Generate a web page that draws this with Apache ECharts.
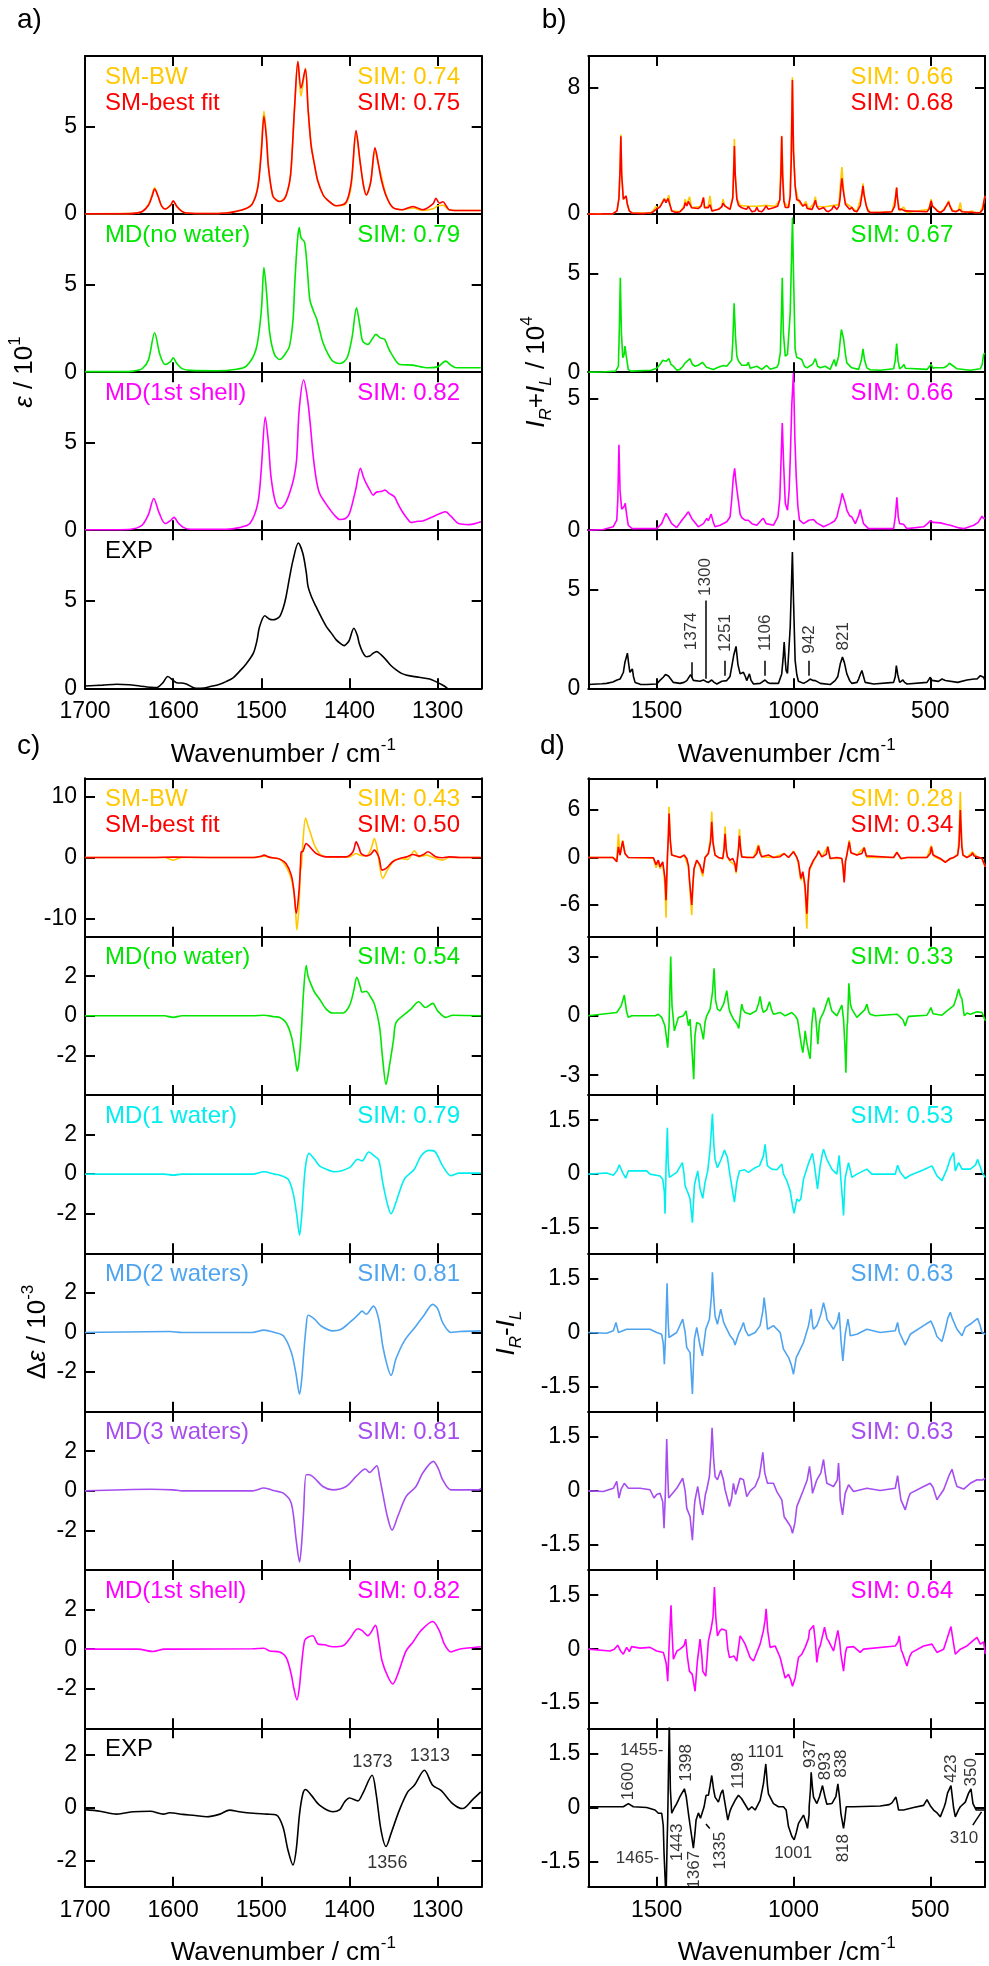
<!DOCTYPE html>
<html><head><meta charset="utf-8">
<script src="https://cdn.jsdelivr.net/npm/echarts@6/dist/echarts.min.js"></script>
<style>html,body{margin:0;padding:0;background:#fff}#c{width:989px;height:1966px}</style>
</head><body><div id="c"></div>
<script>
// ---------------- DATA (wavenumber, value) ----------------
const aBW = [[1700,0.02],[1645,0.04],[1635,0.15],[1628,0.55],[1624,1.1],[1621,1.5],[1617,1.0],[1613,0.45],[1609,0.3],[1603,0.5],[1600,0.72],[1596,0.45],[1590,0.15],[1585,0.06],[1560,0.03],[1540,0.06],[1530,0.14],[1518,0.3],[1510,0.6],[1504,1.6],[1500,3.8],[1497,5.85],[1494,4.4],[1492,2.8],[1487,1.05],[1479,0.72],[1472,1.04],[1468,1.8],[1466,2.7],[1462,6.3],[1458.5,8.7],[1455,6.7],[1450,8.3],[1447,6.1],[1443.5,4.0],[1440,2.9],[1436,1.9],[1430,1.1],[1426,0.85],[1415,0.47],[1404,0.6],[1398,1.6],[1392.5,4.6],[1388,3.0],[1384,1.6],[1381,1.09],[1376,1.8],[1371,3.6],[1367,2.8],[1364,2.2],[1358.5,1.1],[1351,0.38],[1340,0.25],[1328,0.35],[1317,0.2],[1305,0.3],[1300,0.47],[1294,0.5],[1287,0.25],[1270,0.2],[1251,0.2]];
const aBest = [[1700,0.02],[1660,0.02],[1645,0.04],[1635,0.15],[1628,0.5],[1624,1.0],[1621,1.42],[1617,1.0],[1613,0.45],[1609,0.28],[1603,0.5],[1600,0.75],[1596,0.45],[1590,0.15],[1585,0.06],[1560,0.03],[1540,0.06],[1530,0.14],[1518,0.3],[1510,0.6],[1504,1.5],[1500,3.5],[1497,5.57],[1494,4.2],[1492,2.7],[1487,1.04],[1483,0.8],[1479,0.72],[1475,0.8],[1472,1.04],[1468,1.8],[1466,2.7],[1462,6.3],[1458.5,8.68],[1455,7.17],[1450,8.25],[1447,6.0],[1443.5,3.9],[1440,2.9],[1436,1.9],[1430,1.1],[1426,0.85],[1415,0.47],[1404,0.66],[1398,1.8],[1392.5,4.75],[1388,3.0],[1384,1.6],[1381,1.09],[1376,1.8],[1371,3.77],[1367,2.8],[1364,1.98],[1358.5,1.04],[1351,0.38],[1340,0.25],[1328,0.43],[1317,0.25],[1305,0.6],[1302,0.9],[1298,0.62],[1294,0.7],[1290,0.45],[1287,0.25],[1270,0.2],[1251,0.2]];
const aNoWater = [[1700,0.03],[1660,0.03],[1645,0.06],[1635,0.2],[1628,0.7],[1621,2.24],[1615,1.0],[1609,0.44],[1603,0.6],[1600,0.82],[1596,0.5],[1590,0.2],[1580,0.1],[1550,0.08],[1530,0.15],[1517,0.34],[1506,1.3],[1500,3.5],[1497,5.95],[1494,4.5],[1490.5,2.24],[1485,1.0],[1479,0.72],[1472,1.1],[1468,1.48],[1464,3.0],[1462,5.1],[1459,7.5],[1457,8.23],[1455,7.66],[1451,7.4],[1448,6.0],[1445,4.14],[1441,3.5],[1437,3.0],[1430,1.67],[1424,1.0],[1419,0.63],[1411,0.49],[1406,0.6],[1402,0.9],[1397,2.0],[1392,3.67],[1388,2.6],[1385,1.77],[1379,1.58],[1374,1.9],[1370,2.15],[1365,1.95],[1360,1.86],[1356,1.4],[1353,1.1],[1343,0.44],[1328,0.4],[1313,0.25],[1300,0.3],[1291,0.63],[1285,0.4],[1279,0.25],[1251,0.25]];
const aShell = [[1700,0.03],[1660,0.03],[1645,0.08],[1635,0.3],[1628,0.9],[1622,1.81],[1616,1.0],[1609,0.38],[1603,0.55],[1599,0.73],[1594,0.4],[1588,0.15],[1580,0.06],[1540,0.06],[1525,0.15],[1513,0.38],[1504,1.53],[1500,3.5],[1495.5,6.45],[1492,5.0],[1489,3.05],[1484,1.6],[1479,1.24],[1473,1.5],[1468,2.1],[1463,3.0],[1460,4.0],[1457,6.87],[1452,8.55],[1447.5,7.44],[1444,5.8],[1441.5,4.39],[1438,3.0],[1434,2.1],[1428,1.6],[1423,1.24],[1417,0.85],[1411,0.61],[1405,0.65],[1400,0.95],[1393,2.3],[1387.5,3.53],[1384,3.0],[1381,2.67],[1377,2.3],[1373,2.0],[1370,2.15],[1367,2.19],[1363,2.22],[1360,2.29],[1355,2.1],[1349,1.91],[1345,1.5],[1340,1.05],[1335,0.7],[1330,0.44],[1324,0.5],[1317,0.53],[1306,0.76],[1297,0.95],[1291,1.05],[1285,0.8],[1276,0.38],[1264,0.32],[1251,0.48]];
const aExp = [[1700,0.13],[1680,0.18],[1664,0.23],[1650,0.2],[1638,0.13],[1625,0.06],[1619,0.04],[1612,0.3],[1606,0.67],[1600,0.45],[1596,0.32],[1590,0.3],[1585,0.25],[1574,0.0],[1565,0.02],[1558,0.1],[1548,0.22],[1540,0.38],[1532,0.6],[1525,0.95],[1517,1.4],[1509,2.0],[1505,2.7],[1502,3.5],[1496,4.13],[1491,3.95],[1487,3.9],[1483,3.95],[1479,4.1],[1475,4.6],[1472,5.2],[1468,6.3],[1464,7.3],[1458,8.27],[1453,7.7],[1449,6.6],[1447,5.8],[1443,5.2],[1438,4.66],[1432,4.05],[1426,3.5],[1420,3.1],[1415,2.76],[1410,2.55],[1406,2.43],[1402,2.6],[1400,2.76],[1395,3.42],[1391,3.0],[1389,2.57],[1385,2.05],[1381,1.8],[1377,1.84],[1373,2.0],[1369,2.09],[1364,1.9],[1358.5,1.62],[1353,1.3],[1347,1.05],[1341,0.85],[1336,0.76],[1328,0.68],[1321,0.63],[1309,0.53],[1302,0.38],[1295,0.2],[1289,0.0],[1275,-0.6],[1250,-1.3]];

const bBW = [[1750,0],[1660,0.03],[1645,0.2],[1638,1.0],[1634,2.9],[1631,5.03],[1628,2.6],[1622,0.94],[1616,1.0],[1612,1.15],[1607,0.6],[1600,0.2],[1590,0.06],[1520,0.08],[1510,0.3],[1502,0.5],[1495,0.35],[1488,0.5],[1482,0.7],[1472,1.0],[1466,0.75],[1459,1.0],[1456,1.2],[1450,0.5],[1445,0.2],[1415,0.15],[1400,0.5],[1396,0.94],[1390,0.6],[1384,0.9],[1380,1.1],[1372,0.4],[1366,0.3],[1338,0.5],[1329,1.05],[1325,0.4],[1312,0.5],[1305,1.15],[1298,0.2],[1274,0.3],[1262,0.5],[1258,0.94],[1250,0.5],[1232,0.3],[1222,1.1],[1216,4.75],[1213,2.6],[1207,1.0],[1195,0.55],[1165,0.5],[1134,0.5],[1100,0.55],[1067,0.5],[1050,0.9],[1043,4.95],[1035,0.8],[1018,0.42],[1012,1.2],[1004,8.65],[1000,4.1],[994,1.8],[982,0.8],[966,0.5],[955,0.8],[944,0.3],[925,0.7],[920,1.1],[915,0.5],[890,0.45],[853,0.55],[834,0.6],[828,2.0],[823,2.97],[819,2.0],[815,1.2],[810,0.7],[805,0.75],[787,0.42],[768,0.15],[750,1.3],[746,1.95],[742,1.3],[734,0.52],[720,0.1],[640,0.15],[626,1.2],[623,1.68],[620,1.0],[612,0.2],[598,0.45],[585,0.1],[505,0.3],[497,0.94],[492,0.5],[482,0.35],[463,0.1],[440,0.5],[433,0.84],[428,0.5],[415,0.2],[398,0.2],[390,0.73],[385,0.2],[365,0.1],[348,0.2],[340,0.1],[317,0.1],[305,0.7],[300,1.15]];
const bBest = [[1750,0],[1700,0.01],[1660,0.03],[1645,0.2],[1638,1.0],[1634,2.8],[1631,4.92],[1628,2.5],[1622,0.94],[1616,1.0],[1612,1.15],[1607,0.6],[1600,0.2],[1590,0.06],[1550,0.03],[1520,0.08],[1512,0.15],[1502,0.3],[1488,0.45],[1482,0.63],[1472,0.94],[1466,0.73],[1459,0.98],[1456,1.05],[1450,0.5],[1445,0.2],[1430,0.1],[1415,0.15],[1400,0.4],[1396,0.73],[1390,0.52],[1384,0.8],[1380,0.84],[1372,0.4],[1366,0.3],[1348,0.35],[1338,0.5],[1333,0.8],[1329,1.05],[1325,0.4],[1320,0.3],[1312,0.4],[1305,0.59],[1298,0.2],[1293,0.15],[1274,0.3],[1262,0.45],[1258,0.69],[1250,0.5],[1244,0.52],[1232,0.3],[1222,1.0],[1218,3.0],[1216,4.3],[1213,2.5],[1207,0.94],[1201,0.55],[1195,0.52],[1189,0.4],[1183,0.42],[1172,0.3],[1165,0.48],[1158,0.3],[1152,0.15],[1140,0.2],[1134,0.42],[1128,0.2],[1116,0.15],[1108,0.3],[1100,0.52],[1092,0.3],[1085,0.2],[1073,0.4],[1067,0.48],[1058,0.5],[1050,0.9],[1046,2.5],[1043,4.92],[1040,2.5],[1035,0.8],[1030,0.42],[1018,0.42],[1012,1.15],[1008,3.5],[1004,8.48],[1000,4.0],[994,1.78],[988,0.9],[982,0.8],[978,0.85],[973,0.9],[966,0.5],[963,0.42],[955,0.63],[950,0.35],[944,0.27],[932,0.3],[925,0.6],[920,0.88],[915,0.5],[907,0.3],[898,0.35],[890,0.42],[880,0.2],[872,0.15],[860,0.3],[853,0.52],[846,0.4],[841,0.3],[834,0.5],[830,0.94],[826,1.8],[823,2.26],[819,1.6],[815,1.15],[810,0.6],[805,0.63],[795,0.3],[787,0.42],[778,0.2],[768,0.15],[756,0.52],[750,1.2],[746,1.78],[742,1.2],[734,0.52],[728,0.2],[720,0.1],[683,0.1],[640,0.15],[630,0.5],[626,1.2],[623,1.68],[620,1.0],[615,0.3],[612,0.2],[605,0.3],[598,0.42],[592,0.2],[585,0.1],[512,0.15],[505,0.3],[500,0.6],[497,0.84],[492,0.5],[488,0.52],[482,0.35],[475,0.2],[463,0.1],[450,0.25],[445,0.42],[440,0.5],[433,0.77],[428,0.5],[420,0.2],[405,0.15],[398,0.2],[393,0.3],[390,0.27],[385,0.15],[378,0.1],[350,0.12],[330,0.08],[317,0.1],[308,0.3],[305,0.7],[300,1.15]];
const bNoWater = [[1750,0],[1700,0.01],[1650,0.05],[1640,0.3],[1636,2.5],[1633,4.78],[1629,2.0],[1624,0.73],[1619,0.9],[1616,1.32],[1612,0.9],[1604,0.14],[1595,0.05],[1520,0.1],[1512,0.14],[1500,0.2],[1488,0.39],[1478,0.6],[1472,0.68],[1466,0.55],[1461,0.65],[1455,0.68],[1448,0.4],[1439,0.3],[1426,0.1],[1415,0.14],[1404,0.3],[1396,0.47],[1390,0.5],[1378,0.68],[1370,0.4],[1360,0.3],[1348,0.35],[1341,0.39],[1333,0.5],[1327,0.56],[1318,0.25],[1311,0.22],[1293,0.14],[1275,0.25],[1256,0.34],[1244,0.3],[1238,0.39],[1226,0.6],[1222,1.5],[1217,3.48],[1212,1.8],[1207,0.8],[1201,0.56],[1189,0.35],[1183,0.39],[1171,0.35],[1165,0.5],[1158,0.2],[1152,0.14],[1134,0.3],[1116,0.14],[1098,0.34],[1085,0.15],[1079,0.17],[1061,0.25],[1055,0.39],[1048,1.0],[1044,3.0],[1041,4.78],[1037,2.0],[1030,0.81],[1022,0.9],[1018,0.98],[1012,3.0],[1006,6.5],[1003.6,7.82],[1000,5.0],[994,1.15],[988,0.75],[982,0.68],[970,0.64],[960,0.3],[951,0.22],[930,0.4],[920,0.68],[912,0.3],[902,0.22],[884,0.3],[866,0.14],[851,0.64],[845,0.3],[841,0.39],[835,0.8],[830,1.5],[825,2.16],[817,1.69],[810,0.9],[805,0.47],[787,0.22],[762,0.14],[752,0.6],[746,1.18],[740,0.6],[732,0.22],[720,0.12],[683,0.1],[634,0.17],[628,0.6],[623,1.45],[618,0.6],[612,0.17],[604,0.25],[596,0.39],[591,0.2],[585,0.1],[512,0.14],[505,0.2],[497,0.39],[490,0.2],[482,0.22],[451,0.22],[440,0.3],[430,0.45],[424,0.47],[415,0.3],[402,0.17],[354,0.1],[317,0.17],[310,0.4],[305,0.9],[300,0.95]];
const bShell = [[1750,0],[1695,0.03],[1659,0.13],[1646,0.38],[1642,1.2],[1638,3.24],[1634,1.5],[1628,0.8],[1624,0.76],[1619,0.9],[1615,1.02],[1610,0.6],[1604,0.19],[1590,0.06],[1537,0.06],[1500,0.06],[1482,0.25],[1472,0.5],[1466,0.64],[1458,0.5],[1445,0.25],[1427,0.1],[1408,0.38],[1395,0.55],[1384,0.7],[1372,0.45],[1366,0.38],[1348,0.13],[1329,0.25],[1317,0.45],[1311,0.36],[1301,0.61],[1293,0.3],[1287,0.13],[1268,0.19],[1244,0.32],[1232,0.5],[1226,1.14],[1220,2.0],[1215,2.35],[1210,1.8],[1205,1.4],[1195,0.6],[1189,0.48],[1177,0.38],[1165,0.38],[1152,0.25],[1134,0.19],[1118,0.38],[1110,0.45],[1100,0.25],[1073,0.19],[1057,0.51],[1050,1.2],[1045,2.8],[1041,4.07],[1036,2.5],[1030,1.02],[1022,0.76],[1016,1.5],[1012,2.67],[1006,4.8],[1000,5.98],[995,3.5],[990,2.03],[984,0.9],[978,0.38],[963,0.25],[944,0.38],[927,0.41],[915,0.28],[890,0.13],[866,0.25],[850,0.35],[841,0.51],[835,0.8],[829,1.02],[822,1.4],[817,1.46],[810,1.0],[805,0.76],[795,0.55],[787,0.51],[774,0.25],[762,0.55],[756,0.79],[750,0.5],[744,0.25],[726,0.06],[634,0.06],[628,0.51],[622,1.25],[617,0.5],[612,0.25],[598,0.23],[585,0.06],[524,0.13],[510,0.25],[500,0.36],[490,0.3],[463,0.28],[440,0.22],[427,0.19],[400,0.1],[378,0.06],[341,0.19],[325,0.3],[311,0.53],[305,0.45],[300,0.45]];
const bExp = [[1750,0.19],[1700,0.23],[1683,0.25],[1660,0.32],[1645,0.42],[1634,0.47],[1622,0.8],[1616,1.32],[1607,1.78],[1603,1.3],[1598,0.81],[1594,0.85],[1589,0.98],[1585,0.6],[1579,0.3],[1560,0.2],[1537,0.19],[1500,0.22],[1488,0.4],[1476,0.56],[1468,0.7],[1463,0.73],[1457,0.62],[1451,0.64],[1439,0.3],[1415,0.25],[1400,0.3],[1390,0.39],[1376,0.69],[1366,0.4],[1360,0.3],[1342,0.36],[1329,0.42],[1320,0.35],[1311,0.3],[1299,0.42],[1290,0.3],[1280,0.22],[1262,0.36],[1244,0.39],[1232,0.6],[1226,1.07],[1218,1.7],[1210,2.12],[1203,1.2],[1195,0.73],[1189,0.7],[1183,0.81],[1176,0.6],[1171,0.39],[1161,0.73],[1155,0.4],[1146,0.22],[1122,0.25],[1104,0.42],[1095,0.3],[1085,0.25],[1055,0.25],[1043,0.73],[1038,1.5],[1034,2.34],[1030,1.4],[1027,0.9],[1022,0.75],[1018,0.81],[1012,3.1],[1008,5.0],[1004,6.9],[1000,4.5],[994,1.41],[988,0.7],[982,0.36],[963,0.25],[950,0.35],[939,0.47],[930,0.4],[920,0.39],[902,0.25],[866,0.19],[848,0.39],[838,0.6],[829,1.24],[821,1.58],[814,1.3],[805,0.73],[795,0.4],[787,0.25],[768,0.3],[762,0.47],[756,0.7],[750,0.9],[744,0.6],[738,0.3],[707,0.22],[634,0.3],[628,0.6],[624,1.15],[619,0.7],[612,0.3],[605,0.4],[600,0.42],[594,0.3],[585,0.22],[512,0.3],[505,0.45],[500,0.56],[494,0.4],[488,0.39],[470,0.35],[457,0.47],[445,0.4],[439,0.36],[400,0.3],[366,0.42],[340,0.47],[329,0.47],[317,0.64],[311,0.55],[305,0.56],[300,0.39]];

const cBW = [[1700,0],[1610,0],[1600,-0.44],[1590,0],[1510,0],[1497,0.2],[1490,0],[1479,-0.3],[1472,-1.5],[1466,-3.5],[1462,-7.0],[1459.6,-11.9],[1457.3,-8.0],[1455.5,-2.0],[1454.7,-1.8],[1452.8,2.56],[1449.8,6.49],[1447,5.2],[1445.3,4.47],[1442,3.0],[1439.6,2.0],[1432,0.38],[1419,0.05],[1400,0.1],[1392.4,0.65],[1388,0.35],[1381,0.27],[1376,1.2],[1371.7,3.1],[1368,1.0],[1367,-0.16],[1362.3,-3.43],[1357,-2.07],[1349,-0.44],[1340,-0.2],[1334,-0.33],[1326.4,1.1],[1320.7,0.11],[1313,0.38],[1305,0],[1294.3,-0.44],[1287,0],[1251,0]];
const cBest = [[1700,0],[1620,0],[1600,0.05],[1560,0],[1510,0],[1500,0.2],[1497,0.38],[1492,0.1],[1485,-0.1],[1479,-0.27],[1472,-1.0],[1466,-2.9],[1463,-5.5],[1460.4,-9.15],[1457.3,-5.6],[1455.5,-1.0],[1454.7,0.93],[1452.8,1.0],[1449.1,2.29],[1446,1.9],[1443.4,1.47],[1437.7,0.65],[1426.4,0.1],[1404,0.1],[1396,0.93],[1392.4,2.56],[1389,1.5],[1386.8,0.65],[1381,0.27],[1376,0.5],[1371.7,1.2],[1368,0.5],[1366,-0.3],[1363,-2.07],[1358.5,-1.8],[1351,-0.7],[1343,-0.16],[1335,0.1],[1328,0.49],[1321,0.22],[1316,0.5],[1311,0.93],[1302,0.11],[1294,-0.05],[1287,0.1],[1275,0],[1251,0]];
const cNoWater = [[1700,0],[1610,0],[1600,-0.08],[1590,0],[1510,0],[1497,0.03],[1485,-0.05],[1479,-0.08],[1472,-0.34],[1466,-1.02],[1462,-2.0],[1459.2,-2.8],[1457,-2.2],[1454.7,-0.85],[1452.1,1.19],[1449.1,2.54],[1447,2.0],[1444.5,1.69],[1439.6,1.19],[1434,0.85],[1426.4,0.34],[1418.9,0.14],[1407.5,0.14],[1400,0.51],[1395,1.3],[1391.7,1.95],[1388,1.5],[1385.6,1.19],[1381.1,1.24],[1376,0.95],[1371.7,0.59],[1366,-0.51],[1362.3,-2.2],[1358.5,-3.47],[1354.7,-2.54],[1350,-1.2],[1347.2,-0.34],[1335.8,0.14],[1330.2,0.34],[1321.5,0.71],[1313.9,0.42],[1305.6,0.63],[1300,0.25],[1290.6,-0.08],[1283,0.03],[1251,0]];
const c1Water = [[1700,0],[1610,0],[1600,-0.05],[1590,0],[1510,0],[1497,0.12],[1485,0.0],[1479,-0.05],[1469.8,-0.25],[1464.1,-0.92],[1460,-2.0],[1456.6,-3.08],[1454,-2.0],[1452.1,-0.75],[1449.8,0.42],[1446,1.05],[1439.6,0.75],[1434,0.42],[1426.4,0.25],[1417,0.12],[1400,0.33],[1390.5,0.75],[1385.6,0.67],[1378.1,1.12],[1372,0.92],[1366.8,0.72],[1362.3,-0.42],[1357,-1.5],[1352.8,-2.0],[1347.2,-1.42],[1337.7,-0.25],[1326.4,0.25],[1318.8,0.92],[1309.4,1.2],[1303.8,1.17],[1294.3,0.42],[1284.9,-0.08],[1275.5,0.05],[1251,0.05]];
const c2Waters = [[1700,0],[1604,0.05],[1590,0],[1510,0],[1497,0.12],[1485,0],[1475,-0.17],[1466,-1.0],[1461,-2.0],[1456.6,-3.12],[1454,-2.3],[1452.1,-1.17],[1449.1,0.33],[1446.8,0.87],[1439.6,0.67],[1432.1,0.33],[1419,0.08],[1410,0.15],[1400,0.5],[1390,0.9],[1385.6,1.08],[1381.1,0.92],[1372.8,1.33],[1366.8,0.67],[1362.3,-0.67],[1357,-1.7],[1352.8,-2.17],[1347.2,-1.33],[1337.7,-0.42],[1324.5,0.33],[1315,0.9],[1305.6,1.42],[1300,1.2],[1294.3,0.5],[1284.9,0],[1275,0.05],[1251,0.08]];
const c3Waters = [[1700,0],[1626,0.08],[1600,0.05],[1590,0],[1510,0],[1497,0.14],[1485,0],[1475,-0.12],[1466,-0.63],[1460.4,-2.5],[1456.6,-3.6],[1454,-2.5],[1452.1,-1.13],[1449.1,0.81],[1445.3,0.81],[1439.6,0.64],[1430.2,0.22],[1418.9,0.05],[1403.8,0.22],[1392.4,0.73],[1381.9,1.1],[1377.3,0.93],[1369,1.27],[1366,0.73],[1362.3,-0.12],[1357,-1.3],[1351.7,-1.98],[1345.3,-1.3],[1335.8,-0.29],[1324.5,0.22],[1316.9,0.9],[1304.9,1.49],[1299,1.1],[1294.3,0.56],[1284.9,0.05],[1253,0.05],[1251,0.14]];
const cShell = [[1700,0],[1640,0],[1622.6,-0.12],[1610,0],[1600,0],[1510,0.02],[1497,0.05],[1490.6,-0.09],[1479.2,-0.14],[1471.7,-0.43],[1466,-1.28],[1463,-2.0],[1459.6,-2.56],[1457,-2.0],[1454.7,-0.94],[1450.9,0.43],[1447.2,0.6],[1441.5,0.68],[1435.8,0.26],[1428.3,0.22],[1418.9,0.12],[1407.5,0.17],[1400,0.51],[1390.5,1.03],[1385.6,0.94],[1379.2,0.68],[1370.5,1.2],[1366.8,0.43],[1363,-0.6],[1356.6,-1.37],[1350.9,-1.76],[1345.3,-1.28],[1335.8,-0.09],[1328.3,0.34],[1318.8,0.94],[1305.6,1.4],[1298.1,0.94],[1292.4,0.26],[1284.9,-0.14],[1275.5,0],[1251,0.12]];
const cExp = [[1700,-0.08],[1683,-0.14],[1664,-0.25],[1645,-0.16],[1626,-0.14],[1611,-0.25],[1604,-0.2],[1589,-0.26],[1575,-0.3],[1562,-0.35],[1547,-0.25],[1536,-0.1],[1525,-0.16],[1509,-0.22],[1494,-0.25],[1483,-0.28],[1475.5,-0.73],[1469.8,-1.61],[1464.1,-2.18],[1460.4,-1.6],[1456.6,-0.23],[1452.8,0.53],[1449.8,0.68],[1443.4,0.47],[1434,0.09],[1419,-0.16],[1411,-0.08],[1405.6,0.21],[1400,0.36],[1390.5,0.25],[1385,0.53],[1374.3,1.22],[1369.8,0.53],[1364.2,-0.86],[1358.5,-1.48],[1352.8,-0.98],[1343.4,-0.1],[1333.9,0.59],[1326.4,0.84],[1315,1.41],[1305.6,0.84],[1296.2,0.65],[1283,0.15],[1271.7,-0.04],[1260.3,0.3],[1251,0.59]];

const dBW = [[1750,0],[1660,0],[1646,-0.3],[1640,3.0],[1634,0.3],[1624.4,2.2],[1616,0.5],[1604,0],[1512,-0.1],[1502.4,-1.3],[1494,-0.5],[1487.8,-1.4],[1478,-0.7],[1470,-3.5],[1465.9,-7.6],[1461,-0.5],[1457,3.5],[1454.9,6.4],[1450,2.2],[1445.1,0.3],[1414.6,0],[1400,0.3],[1384,-1.2],[1380.5,-3.0],[1372,-7.3],[1367,-3.3],[1363.4,-1.5],[1353.7,-0.34],[1341.5,-1.2],[1331.7,-2.4],[1323.2,0],[1311,0.6],[1303,2.5],[1298.8,5.8],[1294,2.0],[1286.6,0.3],[1274.4,0],[1258.5,-0.2],[1254,1.2],[1250,3.9],[1246,1.2],[1241.5,0.08],[1231.7,-0.5],[1214,-1.0],[1209.8,-2.0],[1204.9,-0.2],[1201,1.2],[1197.6,3.6],[1193,1.2],[1189,0.08],[1146.3,0],[1128,1.6],[1115.9,0.08],[1073.2,0],[1034.1,0.5],[1018.3,0],[1000,0.8],[987.8,0],[981.7,-1.0],[973.2,-2.9],[965.9,-2.0],[958,-4.0],[951.2,-9.0],[946,-3.5],[941.5,-1.6],[926.8,-0.5],[914.6,0.3],[908.5,0.9],[896.3,0.08],[874.4,1.4],[865.9,-0.13],[823.2,-0.13],[814.6,-3.0],[810,-0.5],[804.9,0.4],[796.3,2.2],[790,0.6],[768.3,0.3],[741.5,1.3],[731.7,0],[634.1,0],[622,0.7],[607.3,-0.2],[585.4,0],[512.2,0],[496.3,1.5],[485.4,0.08],[445.1,-0.5],[414.6,0],[400,0.4],[395,2.5],[390.2,8.3],[385,2.0],[380.5,0.3],[365.9,0],[346,0.7],[329.3,0.08],[311,-0.13],[298.8,-1.18]];
const dBest = [[1750,0],[1660,0],[1646,-0.55],[1640,1.35],[1634,0.3],[1624.4,2.06],[1616,0.5],[1604,0],[1512,-0.04],[1502.4,-0.9],[1494,-0.34],[1487.8,-1.2],[1478,-0.55],[1470,-2.5],[1465.9,-5.4],[1461,0.0],[1457,3.0],[1454.9,5.56],[1450,2.0],[1445.1,0.3],[1414.6,0],[1400,0.3],[1390.2,-0.13],[1384,-1.0],[1380.5,-2.65],[1372,-6.0],[1367,-3.0],[1363.4,-1.4],[1353.7,-0.34],[1341.5,-0.97],[1331.7,-2.0],[1323.2,0],[1311,0.5],[1303,2.0],[1298.8,4.5],[1294,1.8],[1286.6,0.3],[1274.4,0],[1258.5,-0.13],[1254,1.0],[1250,3.0],[1246,1.0],[1241.5,0.08],[1231.7,-0.34],[1222,-0.13],[1214,-0.8],[1209.8,-1.8],[1204.9,-0.13],[1201,1.0],[1197.6,2.74],[1193,1.0],[1189,0.08],[1170.7,0],[1146.3,0],[1134,0.5],[1128,1.47],[1122,0.5],[1115.9,0.08],[1091.5,0.3],[1073.2,0],[1048.8,0.1],[1034.1,0.5],[1018.3,0],[1000,0.72],[987.8,0],[981.7,-0.55],[973.2,-2.65],[965.9,-1.8],[958,-3.5],[951.2,-7.1],[946,-3.0],[941.5,-1.4],[926.8,-0.34],[914.6,0.3],[908.5,0.8],[896.3,0.08],[880,0.4],[874.4,1.35],[868,0.2],[865.9,-0.13],[841.5,0],[823.2,-0.13],[819,-1.2],[814.6,-3.16],[810,-0.5],[804.9,0.3],[796.3,1.98],[790,0.6],[786.6,0.5],[768.3,0.3],[750,0.5],[741.5,1.22],[734,0.2],[731.7,0],[634.1,0],[622,0.63],[607.3,-0.13],[585.4,0],[512.2,0],[500,0.5],[496.3,1.35],[490,0.3],[485.4,0.08],[463.4,-0.13],[445.1,-0.63],[426.8,-0.13],[414.6,0],[400,0.3],[395,1.5],[390.2,5.98],[385,1.5],[380.5,0.3],[365.9,0],[350,0.3],[346,0.59],[340,0.2],[329.3,0.08],[311,-0.13],[298.8,-1.18]];
const dNoWater = [[1750,0],[1646,0.17],[1630,0.5],[1618.3,1.05],[1610,0.2],[1603.7,-0.08],[1591.5,0],[1506,0],[1494,0.08],[1481.7,-0.08],[1470,-0.5],[1459.8,-1.61],[1455,-0.5],[1453.7,0.2],[1448.8,3.0],[1444,0.5],[1441.5,0.17],[1435.4,-0.76],[1420.7,-0.08],[1402.4,0],[1392.7,0.25],[1384.1,-0.5],[1378,-0.17],[1372,-1.5],[1364.6,-3.2],[1360,-1.0],[1353.7,-0.34],[1341.5,-0.42],[1335,-0.8],[1329.3,-1.19],[1323,-0.3],[1317.1,0],[1304.9,0.34],[1296,1.2],[1290.2,2.4],[1285,0.8],[1278,0.34],[1268.3,0.25],[1255,0.6],[1243.9,1.27],[1236,0.4],[1231.7,0.17],[1219.5,-0.17],[1207,-0.4],[1200,-0.64],[1193,0.2],[1189,0.59],[1184,0.3],[1176.8,0.17],[1158.5,0.08],[1136.6,0.25],[1128,0.6],[1122,0.98],[1115,0.4],[1109.8,0.17],[1098,0.3],[1087.8,0.71],[1080,0.3],[1073.2,0.08],[1048.8,0.17],[1030.5,0],[1006.1,0.17],[993.9,0],[985,-0.2],[978,-0.85],[971,-1.5],[965.9,-1.86],[960,-1.2],[957.3,-0.76],[951.2,-1.36],[944,-1.9],[939,-2.17],[935,-1.0],[932.9,-0.4],[926.8,0.42],[921,0.2],[917.1,-0.34],[911,-1.44],[906,-0.5],[902.4,-0.17],[890.2,0.17],[880,0.6],[872,0.93],[865,0.5],[859.8,0.25],[841.5,0],[823.2,0.54],[817.1,-0.17],[812,-1.5],[808.5,-2.88],[804,-0.5],[802.4,-0.34],[797.6,1.64],[792,0.6],[786.6,0.34],[768.3,-0.08],[740,0.3],[731.7,0.59],[725,0.2],[719.5,0.08],[701.2,0],[622,0.08],[612.2,-0.03],[600,-0.2],[591.5,-0.51],[585,-0.2],[579.3,-0.03],[512.2,0.03],[505,0.2],[497.6,0.42],[490,0.1],[485.4,0.14],[457.3,0.03],[439,0.25],[425,0.4],[414.6,0.51],[405,0.9],[396.3,1.36],[390,1.0],[384.1,0.85],[378,0.2],[375.6,0],[365.9,0.14],[353.7,0.08],[329.3,0.2],[311,0.17],[304,0.1],[298.8,-0.25]];
const d1Water = [[1750,0],[1683,0.03],[1658.5,-0.03],[1645,0.1],[1636.6,0.26],[1625,0.05],[1613.4,-0.11],[1603.7,0.09],[1561,0.09],[1536.6,0.09],[1524.4,0],[1487.8,-0.05],[1478,-0.14],[1472,-0.5],[1469.5,-1.1],[1467,-0.3],[1465.9,0.23],[1461,1.29],[1458,0.3],[1453.7,-0.09],[1426.8,0.05],[1406.1,0.32],[1400,0.0],[1396.3,-0.32],[1384.1,-0.55],[1378,-0.69],[1369.5,-1.35],[1362.2,-0.32],[1357.3,-0.14],[1350,0.09],[1341.5,-0.41],[1331.7,-0.67],[1323.2,-0.23],[1313.4,0.09],[1304.9,0.69],[1296.3,1.68],[1291,0.8],[1286.6,0.41],[1278,0.18],[1265,0.4],[1252.4,0.67],[1241.5,0.46],[1231.7,-0.05],[1222,-0.5],[1215.9,-0.78],[1207.3,-0.23],[1197.6,0.09],[1179.3,0.12],[1164.6,0.05],[1140.2,0.18],[1124.4,0.23],[1110,0.5],[1103.7,0.83],[1098,0.4],[1095.1,0.23],[1079.3,0.14],[1061,0.12],[1042.7,0.28],[1036.6,0],[1024.4,-0.18],[1012.2,-0.46],[1003,-0.9],[997.6,-1.09],[987.8,-0.69],[980,-0.75],[973.2,-0.69],[963.4,-0.14],[945,0.3],[935,0.5],[930.5,0.58],[923.2,0.23],[912.2,-0.41],[902.4,0.23],[895,0.55],[890.2,0.69],[878,0.41],[859.8,0.14],[841.5,0],[833,0.52],[826.8,-0.14],[821,-0.7],[817.1,-1.15],[812,-0.2],[809.8,-0.05],[798.8,0.32],[792,0.1],[786.6,-0.09],[768.3,0],[731.7,0.14],[713.4,0],[628,0],[619.5,0.25],[609.8,0.05],[591.5,-0.12],[573.2,-0.03],[524.4,0.12],[493.9,0.23],[475.6,-0.05],[457.3,-0.18],[439,0.14],[426.8,0.43],[414.6,0.6],[408.5,0.09],[396.3,0.32],[384.1,0.14],[353.7,0.14],[335,0.25],[326.8,0.41],[317,0.2],[311,0.05],[298.8,-0.09]];
const d2Waters = [[1750,0],[1683,-0.02],[1658.5,0.05],[1648.8,0.28],[1640,0],[1609.8,0.09],[1561,0.09],[1524.4,0.09],[1500,0],[1481.7,-0.05],[1476,-0.3],[1472,-0.88],[1467,0],[1462.2,1.37],[1458,0.3],[1454.9,-0.14],[1426.8,0],[1404.9,0.37],[1396,0],[1390.2,-0.42],[1378,-0.56],[1369.5,-1.71],[1362.2,-0.19],[1353.7,0.14],[1341.5,-0.37],[1332.9,-0.65],[1320.7,0.09],[1307.3,0.37],[1300,1.0],[1296.3,1.67],[1291,0.9],[1286.6,0.46],[1278,0.23],[1265.9,0.65],[1256,0.3],[1250,0.19],[1231.7,-0.09],[1220,-0.2],[1213.4,-0.35],[1201.2,-0.05],[1189,0.15],[1182.9,0.28],[1175,0.05],[1164.6,-0.09],[1140.2,0],[1122,0.19],[1112,0.6],[1107.3,0.97],[1100,0.5],[1095.1,0.09],[1073.2,0.19],[1048.8,0],[1036.6,-0.46],[1018.3,-0.69],[1008,-0.9],[1000,-1.16],[990,-0.7],[987.8,-0.74],[963.4,-0.28],[945.1,0.19],[940,0.4],[935.4,0.65],[930,0.2],[926.8,0.09],[914.6,0.19],[900,0.5],[890.2,0.83],[880,0.5],[878,0.37],[853.7,0.09],[840,0.3],[833,0.56],[828,0.0],[826.8,-0.19],[819.5,-0.79],[811,-0.05],[801.2,0.37],[795,0.1],[792.7,-0.09],[768.3,-0.05],[731.7,0.09],[682.9,0],[628,0.05],[619.5,0.28],[613,0.0],[607.3,-0.09],[591.5,-0.35],[573.2,-0.05],[524.4,0.19],[497.6,0.32],[485,0.1],[475.6,-0.11],[457.3,-0.25],[445.1,0.09],[436,0.4],[426.8,0.56],[420,0.4],[414.6,0.37],[402.4,0.09],[384.1,-0.09],[372,0.14],[350,0.25],[326.8,0.39],[318,0.2],[311,0],[298.8,-0.05]];
const d3Waters = [[1750,0],[1695,-0.02],[1658.5,0.07],[1646,0.26],[1637.8,-0.2],[1630,0.05],[1618.3,0.21],[1603.7,0.07],[1561,0.07],[1524.4,0.03],[1509.8,-0.2],[1500,-0.1],[1487.8,-0.07],[1478,-0.3],[1473.2,-1.04],[1468.3,-0.07],[1463.4,1.44],[1459,0.3],[1456.1,-0.2],[1426.8,0.07],[1404.9,0.35],[1396,0],[1390.2,-0.48],[1378,-0.72],[1369.5,-1.37],[1362,-0.4],[1359.8,-0.25],[1350,0.12],[1339,-0.44],[1331.7,-0.67],[1322,-0.1],[1317.1,0.03],[1307.3,0.4],[1302,1.0],[1297.6,1.75],[1292,0.9],[1286.6,0.4],[1278,0.31],[1265.9,0.57],[1256,0.3],[1250,0.03],[1234.1,-0.44],[1226,-0.2],[1219.5,0.21],[1212,-0.1],[1204.9,-0.07],[1195.1,0.35],[1182.9,0.31],[1170.7,-0.16],[1158,0.0],[1140.2,0.12],[1125,0.4],[1117,0.8],[1112.2,1.07],[1105,0.5],[1095.1,0.21],[1073.2,0.21],[1061,-0.02],[1042.7,-0.25],[1034.1,-0.72],[1018.3,-0.9],[1010,-1.0],[1003.7,-1.18],[995,-0.9],[987.8,-0.44],[963.4,0.03],[950,0.3],[941.5,0.68],[935,0.3],[930.5,-0.07],[915,0.3],[900,0.5],[890.2,0.87],[884,0.5],[878,0.21],[853.7,0.12],[840,0.3],[835.4,0.77],[831,0.2],[829.3,-0.25],[820.7,-0.67],[811,-0.07],[798.8,0.17],[780.5,-0.02],[731.7,0.07],[682.9,0.01],[628,0.07],[619.5,0.42],[612,0],[607.3,-0.25],[591.5,-0.53],[580,-0.2],[573.2,-0.07],[524.4,0.12],[500,0.21],[490,0.1],[475.6,-0.25],[463,-0.1],[451.2,0.03],[432.9,0.4],[420.7,0.6],[410,0.3],[402.4,0.12],[378,0.05],[353.7,0.21],[329.3,0.31],[310,0.3],[298.8,0.35]];
const dShell = [[1750,0],[1671,-0.05],[1655,0.0],[1642.7,0.11],[1632,-0.05],[1622,-0.14],[1609.8,0.05],[1600,-0.07],[1591.5,0.07],[1561,0.03],[1524.4,0.05],[1500,-0.05],[1475.6,-0.09],[1465,-0.4],[1459.8,-0.89],[1456,-0.2],[1454.9,0.05],[1447.6,1.22],[1444,0.5],[1439,-0.28],[1426,-0.05],[1414.6,0],[1400,0.1],[1393.9,0.28],[1388,-0.2],[1380.5,-0.61],[1370,-0.7],[1359.8,-1.17],[1355,-0.7],[1351.2,-0.33],[1341.5,0.28],[1335,-0.2],[1331.7,-0.61],[1320.7,-0.75],[1315,-0.2],[1311,0.23],[1301.2,0.56],[1294,0.9],[1289,1.73],[1284,0.9],[1278,0.37],[1270,0.5],[1262.2,0.56],[1246.3,0.52],[1240,0],[1234.1,-0.23],[1217.1,-0.19],[1207.3,-0.33],[1200,0.1],[1195.1,0.37],[1185,0.25],[1176.8,0.14],[1158.5,-0.23],[1146.3,-0.33],[1122,0.14],[1109.8,0.52],[1104,0.8],[1100,1.12],[1094,0.5],[1085.4,0.05],[1067.1,0.09],[1048.8,-0.23],[1030.5,-0.8],[1018.3,-0.7],[1010,-0.85],[1003.7,-1.03],[993.9,-0.8],[981.7,-0.23],[969.5,-0.14],[957.3,0.05],[945,0.3],[941.5,0.52],[926.8,0.66],[920,0.2],[914.6,-0.37],[908,0.0],[902.4,0.09],[886.6,0.61],[878,0.3],[872,0.23],[853.7,-0.05],[837.8,0.52],[831,0.2],[826.8,-0.14],[817.1,-0.61],[810,-0.1],[804.9,0.05],[780.5,0.07],[756.1,-0.09],[743.9,0],[628,0.09],[618,0.2],[613.4,0.37],[607,0.0],[600,-0.14],[585.4,-0.47],[575,-0.2],[567.1,-0.09],[524.4,0.09],[493.9,0.14],[475.6,-0.09],[451.2,0],[439,0.28],[432,0.45],[424.4,0.63],[418,0.3],[408.5,-0.14],[390.2,0],[365.9,0.09],[341.5,0.25],[329.3,0.33],[317.1,0.14],[305,0.2],[298.8,-0.14]];
const dExp = [[1750,0.02],[1700,0.02],[1622,0.02],[1603.7,0.11],[1585.4,0.02],[1536.6,0],[1506.1,-0.07],[1493.9,-0.16],[1481.7,-0.16],[1476,-0.5],[1473.2,-1.26],[1468,-2.2],[1466,-2.6],[1462,-1.0],[1459.8,-0.35],[1457,1.0],[1454,2.4],[1450,0.5],[1445.1,-0.16],[1435,0.0],[1426.8,0.11],[1415,0.3],[1398.8,0.52],[1392,0.3],[1384.1,-0.16],[1375.6,-0.62],[1365.9,-1.13],[1360,-0.7],[1356.1,-0.35],[1347.6,-0.15],[1340,-0.3],[1335.4,-0.35],[1326.8,0.02],[1319.5,0.34],[1311,0.34],[1305,0.6],[1298.8,0.89],[1292,0.5],[1286.6,0.29],[1274.4,0.15],[1265,0.4],[1258.5,0.49],[1250,0.1],[1246.3,-0.07],[1240.2,-0.35],[1232,-0.1],[1225.6,0.02],[1213.4,0.2],[1201.2,0.34],[1190,0.25],[1182.9,0.2],[1164.6,-0.07],[1152.4,0.02],[1140.2,-0.07],[1122,0.2],[1109.8,0.66],[1101.2,1.21],[1095,0.6],[1091.5,0.38],[1073.2,0.11],[1054.9,0.02],[1036.6,0.02],[1026.8,-0.07],[1018.3,-0.53],[1006.1,-0.8],[997.6,-0.9],[990,-0.7],[981.7,-0.44],[963.4,-0.21],[955,-0.4],[948.8,-0.58],[943,-0.2],[942.7,0.02],[938,0.5],[935.4,0.98],[930,0.5],[926.8,0.29],[914.6,0.11],[905,0.3],[893.9,0.61],[885,0.3],[878,0.09],[859.8,0.11],[845,0.3],[837.8,0.66],[832,0.3],[826.8,-0.16],[817.1,-0.58],[812,-0.3],[807.3,0.02],[780.5,0.02],[682.9,0.04],[650,0.08],[640.2,0.13],[625.6,0.29],[620,0.1],[615.9,-0.07],[597.6,-0.07],[561,0],[524.4,0.06],[512.2,0.22],[500,0.05],[488,-0.07],[475,-0.15],[463.4,-0.26],[450,0.0],[445.1,0.11],[437,0.4],[424.4,0.61],[418,0.2],[415,0.0],[408.5,-0.26],[396,-0.05],[390.2,0.02],[372,0.15],[360,0.4],[351.2,0.52],[344,0.11],[332,-0.07],[298.8,-0.07]];

// tick values
const xTicksAC = [1700,1600,1500,1400,1300];
const xTicksBD = [1500,1000,500];

// annotations [label, wavenumber, value]
const bExpTextV = [['1374',1372,2.88],['1300',1321,5.63],['1251',1250.5,2.8],['1106',1104,2.81],['942',942.5,2.47],['821',818,2.63]];
const bExpLines = [[[1372,0.56],[1372,1.32]],[[1321,0.48],[1321,4.45]],[[1250.5,0.64],[1250.5,1.4]],[[1104,0.64],[1104,1.4]],[[942.5,0.64],[942.5,1.4]]];
const cExpText = [['1373',1374,1.72],['1313',1308.8,1.95],['1356',1357,-2.11]];
const dExpTextV = [['1600',1604,0.73],['1398',1390.5,1.24],['1443',1424,-0.97],['1367',1363,-1.73],['1335',1269,-1.2],['1198',1202,1.02],['937',940,1.49],['893',885,1.15],['838',824,1.22],['818',818,-1.13],['423',422,1.08],['350',349,0.98]];
const dExpTextH = [['1455-',1555,1.58],['1465-',1570,-1.41],['1101',1101.5,1.54],['1001',1001,-1.27],['310',376.6,-0.86]];
const dExpLines = [[[1320,-0.46],[1306,-0.58]],[[344.5,-0.49],[312.7,-0.12]]];

// ---------------- LAYOUT / STYLE ----------------
const FF = '"Liberation Sans", Arial, Helvetica, sans-serif';
const COL = {bw:'#FFC800', best:'#FF0000', nw:'#00E600', w1:'#00EEEE', w2:'#4FA4F0', w3:'#A64DF0', sh:'#FF00FF', exp:'#000000'};
const LX = {a:85, b:588.3}, PW = 396.7;
const TOP = {y0:56, h:158.08}, BOT = {y0:778.3, h:158.34};

const panels = [
  {x:LX.a, y:TOP.y0+0*TOP.h, h:TOP.h, xr:[1250,1700], xt:xTicksAC, yr:[0,9], yt:[0,5], s:[[aBW,COL.bw],[aBest,COL.best]], names:[['SM-BW',COL.bw],['SM-best fit',COL.best]], sims:[['SIM: 0.74',COL.bw],['SIM: 0.75',COL.best]], smooth:0.3},
  {x:LX.a, y:TOP.y0+1*TOP.h, h:TOP.h, xr:[1250,1700], xt:xTicksAC, yr:[0,9], yt:[0,5], s:[[aNoWater,COL.nw]], names:[['MD(no water)',COL.nw]], sims:[['SIM: 0.79',COL.nw]], smooth:0.3},
  {x:LX.a, y:TOP.y0+2*TOP.h, h:TOP.h, xr:[1250,1700], xt:xTicksAC, yr:[0,9], yt:[0,5], s:[[aShell,COL.sh]], names:[['MD(1st shell)',COL.sh]], sims:[['SIM: 0.82',COL.sh]], smooth:0.3},
  {x:LX.a, y:TOP.y0+3*TOP.h, h:TOP.h, xr:[1250,1700], xt:xTicksAC, yr:[0,9], yt:[0,5], s:[[aExp,COL.exp]], names:[['EXP',COL.exp]], sims:[], smooth:0.3, xlab:true},
  {x:LX.b, y:TOP.y0+0*TOP.h, h:TOP.h, xr:[300,1750], xt:xTicksBD, yr:[0,10], yt:[0,8], s:[[bBW,COL.bw],[bBest,COL.best]], names:[], sims:[['SIM: 0.66',COL.bw],['SIM: 0.68',COL.best]], smooth:false},
  {x:LX.b, y:TOP.y0+1*TOP.h, h:TOP.h, xr:[300,1750], xt:xTicksBD, yr:[0,8], yt:[0,5], s:[[bNoWater,COL.nw]], names:[], sims:[['SIM: 0.67',COL.nw]], smooth:false},
  {x:LX.b, y:TOP.y0+2*TOP.h, h:TOP.h, xr:[300,1750], xt:xTicksBD, yr:[0,6], yt:[0,5], s:[[bShell,COL.sh]], names:[], sims:[['SIM: 0.66',COL.sh]], smooth:false},
  {x:LX.b, y:TOP.y0+3*TOP.h, h:TOP.h, xr:[300,1750], xt:xTicksBD, yr:[0,8], yt:[0,5], s:[[bExp,COL.exp]], names:[], sims:[], smooth:false, xlab:true, annV:bExpTextV, annLines:bExpLines, annSize:17},
  {x:LX.a, y:BOT.y0+0*BOT.h, h:BOT.h, xr:[1250,1700], xt:xTicksAC, yr:[-13,13], yt:[-10,0,10], s:[[cBW,COL.bw],[cBest,COL.best]], names:[['SM-BW',COL.bw],['SM-best fit',COL.best]], sims:[['SIM: 0.43',COL.bw],['SIM: 0.50',COL.best]], smooth:0.3},
  {x:LX.a, y:BOT.y0+1*BOT.h, h:BOT.h, xr:[1250,1700], xt:xTicksAC, yr:[-4,4], yt:[-2,0,2], s:[[cNoWater,COL.nw]], names:[['MD(no water)',COL.nw]], sims:[['SIM: 0.54',COL.nw]], smooth:0.3},
  {x:LX.a, y:BOT.y0+2*BOT.h, h:BOT.h, xr:[1250,1700], xt:xTicksAC, yr:[-4,4], yt:[-2,0,2], s:[[c1Water,COL.w1]], names:[['MD(1 water)',COL.w1]], sims:[['SIM: 0.79',COL.w1]], smooth:0.3},
  {x:LX.a, y:BOT.y0+3*BOT.h, h:BOT.h, xr:[1250,1700], xt:xTicksAC, yr:[-4,4], yt:[-2,0,2], s:[[c2Waters,COL.w2]], names:[['MD(2 waters)',COL.w2]], sims:[['SIM: 0.81',COL.w2]], smooth:0.3},
  {x:LX.a, y:BOT.y0+4*BOT.h, h:BOT.h, xr:[1250,1700], xt:xTicksAC, yr:[-4,4], yt:[-2,0,2], s:[[c3Waters,COL.w3]], names:[['MD(3 waters)',COL.w3]], sims:[['SIM: 0.81',COL.w3]], smooth:0.3},
  {x:LX.a, y:BOT.y0+5*BOT.h, h:BOT.h, xr:[1250,1700], xt:xTicksAC, yr:[-4,4], yt:[-2,0,2], s:[[cShell,COL.sh]], names:[['MD(1st shell)',COL.sh]], sims:[['SIM: 0.82',COL.sh]], smooth:0.3},
  {x:LX.a, y:BOT.y0+6*BOT.h, h:BOT.h, xr:[1250,1700], xt:xTicksAC, yr:[-3,3], yt:[-2,0,2], s:[[cExp,COL.exp]], names:[['EXP',COL.exp]], sims:[], smooth:0.3, xlab:true, annH:cExpText, annSize:18},
  {x:LX.b, y:BOT.y0+0*BOT.h, h:BOT.h, xr:[300,1750], xt:xTicksBD, yr:[-10,10], yt:[-6,0,6], s:[[dBW,COL.bw],[dBest,COL.best]], names:[], sims:[['SIM: 0.28',COL.bw],['SIM: 0.34',COL.best]], smooth:false},
  {x:LX.b, y:BOT.y0+1*BOT.h, h:BOT.h, xr:[300,1750], xt:xTicksBD, yr:[-4,4], yt:[-3,0,3], s:[[dNoWater,COL.nw]], names:[], sims:[['SIM: 0.33',COL.nw]], smooth:false},
  {x:LX.b, y:BOT.y0+2*BOT.h, h:BOT.h, xr:[300,1750], xt:xTicksBD, yr:[-2.2,2.2], yt:[-1.5,0,1.5], s:[[d1Water,COL.w1]], names:[], sims:[['SIM: 0.53',COL.w1]], smooth:false},
  {x:LX.b, y:BOT.y0+3*BOT.h, h:BOT.h, xr:[300,1750], xt:xTicksBD, yr:[-2.2,2.2], yt:[-1.5,0,1.5], s:[[d2Waters,COL.w2]], names:[], sims:[['SIM: 0.63',COL.w2]], smooth:false},
  {x:LX.b, y:BOT.y0+4*BOT.h, h:BOT.h, xr:[300,1750], xt:xTicksBD, yr:[-2.2,2.2], yt:[-1.5,0,1.5], s:[[d3Waters,COL.w3]], names:[], sims:[['SIM: 0.63',COL.w3]], smooth:false},
  {x:LX.b, y:BOT.y0+5*BOT.h, h:BOT.h, xr:[300,1750], xt:xTicksBD, yr:[-2.2,2.2], yt:[-1.5,0,1.5], s:[[dShell,COL.sh]], names:[], sims:[['SIM: 0.64',COL.sh]], smooth:false},
  {x:LX.b, y:BOT.y0+6*BOT.h, h:BOT.h, xr:[300,1750], xt:xTicksBD, yr:[-2.2,2.2], yt:[-1.5,0,1.5], s:[[dExp,COL.exp]], names:[], sims:[], smooth:false, xlab:true, annV:dExpTextV, annH:dExpTextH, annLines:dExpLines, annSize:17}
];

const grid=[], xAxis=[], yAxis=[], series=[], graphic=[];
const axLine = {show:true, onZero:false, lineStyle:{color:'#000', width:2}};
const tickSt = {color:'#000', width:2};
const plain = v => String(v);

panels.forEach((p, i) => {
  grid.push({left:p.x, top:p.y, width:PW, height:p.h});
  const mkX = (pos, lab) => ({type:'value', gridIndex:i, position:pos, min:p.xr[0], max:p.xr[1], inverse:true,
    axisLine:axLine, axisTick:{show:true, inside:true, length:10, customValues:p.xt, lineStyle:tickSt},
    axisLabel:{show:lab, customValues:p.xt, formatter:plain, color:'#000', fontSize:23, fontFamily:FF, margin:12},
    splitLine:{show:false}});
  const mkY = (pos, lab) => ({type:'value', gridIndex:i, position:pos, min:p.yr[0], max:p.yr[1],
    axisLine:axLine, axisTick:{show:true, inside:true, length:10, customValues:p.yt, lineStyle:tickSt},
    axisLabel:{show:lab, customValues:p.yt, formatter:plain, color:'#000', fontSize:23, fontFamily:FF, margin:8},
    splitLine:{show:false}});
  xAxis.push(mkX('bottom', !!p.xlab)); xAxis.push(mkX('top', false));
  yAxis.push(mkY('left', true)); yAxis.push(mkY('right', false));
  p.s.forEach(([d, c], k) => {
    series.push({type:'line', xAxisIndex:2*i, yAxisIndex:2*i, data:d, showSymbol:false, symbol:'none',
      smooth:p.smooth, lineStyle:{color:c, width:1.6}, itemStyle:{color:c}, silent:true, z:2+k});
  });
  if (p.annLines) {
    series.push({type:'lines', coordinateSystem:'cartesian2d', xAxisIndex:2*i, yAxisIndex:2*i, polyline:false,
      data:p.annLines.map(c => ({coords:c})), lineStyle:{color:'#000', width:1.5, opacity:1, curveness:0}, silent:true, z:5});
  }
  const annLabel = {show:true, position:'inside', formatter:'{b}', color:'#000', textBorderWidth:0, textBorderColor:'transparent',
    fontSize:p.annSize||17, fontFamily:FF};
  if (p.annV) {
    series.push({type:'scatter', xAxisIndex:2*i, yAxisIndex:2*i, symbolSize:0, silent:true, z:6, itemStyle:{color:'#000'},
      data:p.annV.map(a => ({name:a[0], value:[a[1], a[2]]})), label:Object.assign({rotate:90}, annLabel)});
  }
  if (p.annH) {
    series.push({type:'scatter', xAxisIndex:2*i, yAxisIndex:2*i, symbolSize:0, silent:true, z:6, itemStyle:{color:'#000'},
      data:p.annH.map(a => ({name:a[0], value:[a[1], a[2]]})), label:annLabel});
  }
  p.names.forEach(([t, c], k) => graphic.push({type:'text', x:p.x+20, y:p.y+21+k*26.5,
    style:{text:t, fill:c, font:'24px '+FF, align:'left', verticalAlign:'middle', textAlign:'left', textVerticalAlign:'middle'}}));
  const simRight = p.x === LX.a ? 460 : 953.3;
  p.sims.forEach(([t, c], k) => graphic.push({type:'text', x:simRight, y:p.y+21+k*26.5,
    style:{text:t, fill:c, font:'24px '+FF, align:'right', verticalAlign:'middle', textAlign:'right', textVerticalAlign:'middle'}}));
});

[['a)',17,20],['b)',541.7,20],['c)',17,746],['d)',540,746]].forEach(([t,x,y]) => graphic.push({type:'text', x:x, y:y,
  style:{text:t, fill:'#000', font:'28px '+FF, align:'left', verticalAlign:'middle', textAlign:'left', textVerticalAlign:'middle'}}));

const rich = {
  n:{fontSize:26, lineHeight:36, fontFamily:FF, color:'#000', verticalAlign:'middle'},
  ni:{fontSize:26, lineHeight:36, fontFamily:FF, fontStyle:'italic', color:'#000', verticalAlign:'middle'},
  s:{fontSize:17, lineHeight:17, fontFamily:FF, color:'#000', verticalAlign:'top'},
  b:{fontSize:17, lineHeight:17, fontFamily:FF, fontStyle:'italic', color:'#000', verticalAlign:'bottom'}
};
function title(text, x, y, rot) {
  graphic.push({type:'text', x:x, y:y, rotation:rot,
    style:{text:text, rich:rich, fill:'#000', font:'26px '+FF, align:'center', verticalAlign:'middle', textAlign:'center', textVerticalAlign:'middle'}});
}
title('{n|Wavenumber / cm}{s|-1}', 283.3, 755, 0);
title('{n|Wavenumber /cm}{s|-1}', 786.7, 755, 0);
title('{n|Wavenumber / cm}{s|-1}', 283.3, 1953, 0);
title('{n|Wavenumber /cm}{s|-1}', 786.7, 1953, 0);
title('{ni|ε}{n| / 10}{s|1}', 25, 372, Math.PI/2);
title('{ni|I}{b|R}{n|+}{ni|I}{b|L}{n| / 10}{s|4}', 537, 372, Math.PI/2);
title('{n|Δ}{ni|ε}{n| / 10}{s|-3}', 37.5, 1332, Math.PI/2);
title('{ni|I}{b|R}{n|-}{ni|I}{b|L}', 507, 1333, Math.PI/2);

const chart = echarts.init(document.getElementById('c'), null, {renderer:'canvas'});
chart.setOption({animation:false, backgroundColor:'#fff', grid, xAxis, yAxis, series, graphic});
</script></body></html>
